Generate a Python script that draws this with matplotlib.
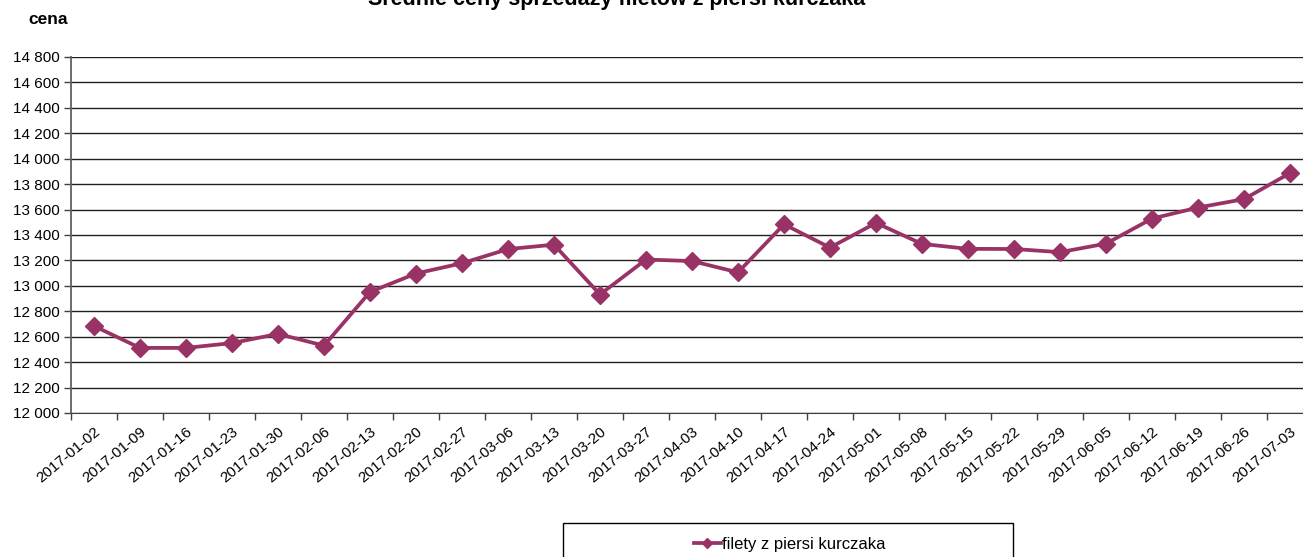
import matplotlib
matplotlib.use("Agg")
import matplotlib.pyplot as plt
from matplotlib.ticker import FuncFormatter, FixedLocator, MultipleLocator
from matplotlib.patches import Rectangle

plt.rcParams["font.family"] = ["Liberation Sans", "DejaVu Sans"]

# === DANE ===
daty = ["2017-01-02", "2017-01-09", "2017-01-16", "2017-01-23", "2017-01-30",
        "2017-02-06", "2017-02-13", "2017-02-20", "2017-02-27", "2017-03-06",
        "2017-03-13", "2017-03-20", "2017-03-27", "2017-04-03", "2017-04-10",
        "2017-04-17", "2017-04-24", "2017-05-01", "2017-05-08", "2017-05-15",
        "2017-05-22", "2017-05-29", "2017-06-05", "2017-06-12", "2017-06-19",
        "2017-06-26", "2017-07-03"]
ceny = [12684, 12512, 12512, 12550, 12622, 12530, 12952, 13097, 13178, 13289,
        13324, 12932, 13207, 13195, 13106, 13484, 13301, 13495, 13330, 13291,
        13290, 13265, 13332, 13529, 13616, 13682, 13887]

kolor = "#993366"

# === WYKRES ===
fig = plt.figure(figsize=(13.03, 5.57), dpi=100)
ax = fig.add_axes([71 / 1303, 144 / 557, 1242 / 1303, 356 / 557])

x = list(range(len(daty)))
ax.plot(x, ceny, color=kolor, linewidth=2.7, marker="D", markersize=9,
        label="filety z piersi kurczaka", zorder=3)

ax.set_xlim(-0.5, len(daty) - 0.5)
ax.set_ylim(12000, 14800)
ax.yaxis.set_major_locator(MultipleLocator(200))
ax.yaxis.set_major_formatter(FuncFormatter(lambda v, p: f"{int(v):,}".replace(",", " ")))

ax.set_xticks(x)
ax.set_xticklabels(daty, rotation=40, ha="right", rotation_mode="anchor", fontsize=11)
ax.tick_params(axis="x", which="major", length=0, pad=8)
ax.xaxis.set_minor_locator(FixedLocator([i - 0.5 for i in range(len(daty) + 1)]))
ax.tick_params(axis="x", which="minor", length=5, color="#404040", width=1)
ax.tick_params(axis="y", length=5, color="#404040", width=1, labelsize=11, pad=3)

ax.grid(axis="y", color="#202020", linewidth=1)
for s in ["top", "right"]:
    ax.spines[s].set_visible(False)
ax.spines["left"].set_color("#606060")
ax.spines["bottom"].set_color("#404040")
ax.spines["left"].set_linewidth(1.3)

fig.text(617 / 1303, 1 - 5 / 557, "Średnie ceny sprzedaży filetów z piersi kurczaka",
         ha="center", va="baseline", fontsize=15.5, fontweight="bold")
fig.text(28 / 1303, 1 - 19 / 557, "cena", ha="left", va="center",
         fontsize=12.5, fontweight="bold")

# legenda w ramce
fig.patches.append(Rectangle((563 / 1303, -0.05), 450 / 1303, 0.05 + 34 / 557,
                             transform=fig.transFigure, fill=False,
                             edgecolor="black", linewidth=1))
fig.legend(loc="center", bbox_to_anchor=(790 / 1303, 1 - 544 / 557), frameon=False,
           fontsize=12, handlelength=1.6, handletextpad=0.1, markerscale=0.6)

plt.savefig("out.png", dpi=100)
plt.close()
